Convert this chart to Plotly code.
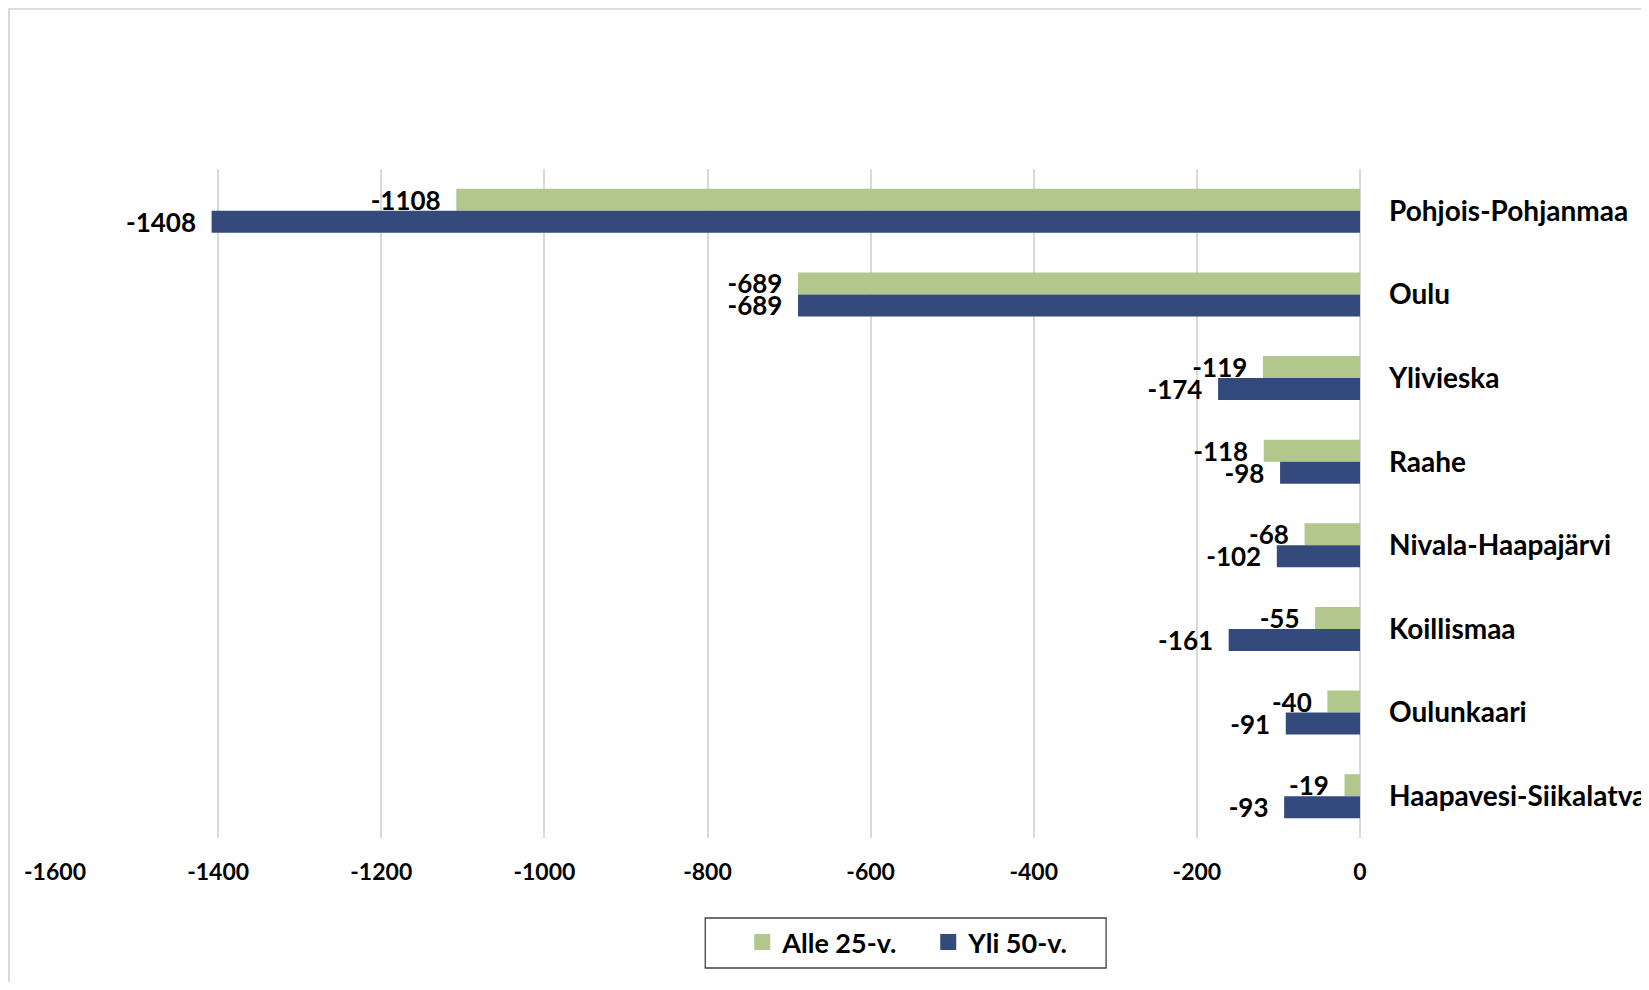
import plotly.graph_objects as go

categories = ["Pohjois-Pohjanmaa", "Oulu", "Ylivieska", "Raahe", "Nivala-Haapajärvi",
              "Koillismaa", "Oulunkaari", "Haapavesi-Siikalatva"]
alle25 = [-1108, -689, -119, -118, -68, -55, -40, -19]
yli50 = [-1408, -689, -174, -98, -102, -161, -91, -93]
series_names = ["Alle 25-v.", "Yli 50-v."]
tick_vals = [-1600, -1400, -1200, -1000, -800, -600, -400, -200, 0]
tick_text = ["-1600", "-1400", "-1200", "-1000", "-800", "-600", "-400", "-200", "0"]

GREEN = "#B1C78C"
BLUE = "#344A7C"
FONT = "Lato"

# page offset of the plot div (browser body margin)
OFF = 8
W, H = 1649 - OFF, 990 - 2 * OFF
# plot area in page pixels
PX0, PX1, PY0, PY1 = 54.5, 1360, 169, 838
ML = PX0 - OFF
MT = PY0 - OFF
MR = W - (PX1 - OFF)
MB = H - (PY1 - OFF)
plot_w = PX1 - PX0
plot_h = PY1 - PY0


def px_x(x):  # page pixel -> paper x
    return (x - PX0) / plot_w


def px_y(y):  # page pixel -> paper y
    return (PY1 - y) / plot_h


fig = go.Figure()
for name, vals, col in [(series_names[0], alle25, GREEN), (series_names[1], yli50, BLUE)]:
    fig.add_trace(go.Bar(
        y=categories, x=vals, name=name, orientation="h",
        marker=dict(color=col, line=dict(width=0)),
        text=[f"{v}\u00a0\u00a0" for v in vals],
        textposition="outside", constraintext="none", cliponaxis=False,
        textfont=dict(family=FONT, size=26, color="black", weight="bold"),
        hoverinfo="skip", showlegend=False,
    ))

# legend entries (square swatches)
for name, col in [(series_names[0], GREEN), (series_names[1], BLUE)]:
    fig.add_trace(go.Scatter(
        x=[None], y=[None], mode="markers", name=name,
        marker=dict(symbol="square", size=16, color=col, line=dict(width=0)),
        hoverinfo="skip", showlegend=True,
    ))

# outer chart border (top and left visible)
fig.add_shape(type="rect", xref="paper", yref="paper",
              x0=px_x(OFF + 0.5), x1=px_x(2000), y0=px_y(2000), y1=px_y(OFF + 0.8),
              line=dict(color="#D9D9D9", width=2), layer="below")
# legend box
fig.add_shape(type="rect", xref="paper", yref="paper",
              x0=px_x(705), x1=px_x(1106), y0=px_y(968), y1=px_y(918),
              line=dict(color="#404040", width=1.3), layer="below")

fig.update_layout(
    width=W, height=H,
    margin=dict(l=ML, r=MR, t=MT, b=MB, pad=0, autoexpand=False),
    paper_bgcolor="white", plot_bgcolor="white",
    barmode="group", bargap=0.474, bargroupgap=0,
    font=dict(family=FONT, color="black"),
    xaxis=dict(range=[-1600, 0], tickvals=tick_vals, ticktext=tick_text, showgrid=True,
               gridcolor="#D9D9D9", gridwidth=2, zeroline=True, zerolinecolor="#D9D9D9",
               zerolinewidth=2, showline=False, ticks="", ticklabelstandoff=18,
               automargin=False,
               tickfont=dict(family=FONT, size=23, color="black", weight="bold")),
    yaxis=dict(side="right", autorange="reversed", showgrid=False, zeroline=False,
               showline=False, ticks="", ticklabelstandoff=28, automargin=False,
               tickfont=dict(family=FONT, size=28, color="black", weight="bold")),
    legend=dict(orientation="h", x=px_x(742), xanchor="left", y=px_y(918), yanchor="top",
                borderwidth=0, bgcolor="rgba(0,0,0,0)", entrywidth=141,
                font=dict(family=FONT, size=27, color="black", weight="bold"),
                traceorder="normal", itemclick=False, itemdoubleclick=False),
    showlegend=True,
)

fig.write_html("out.html")
